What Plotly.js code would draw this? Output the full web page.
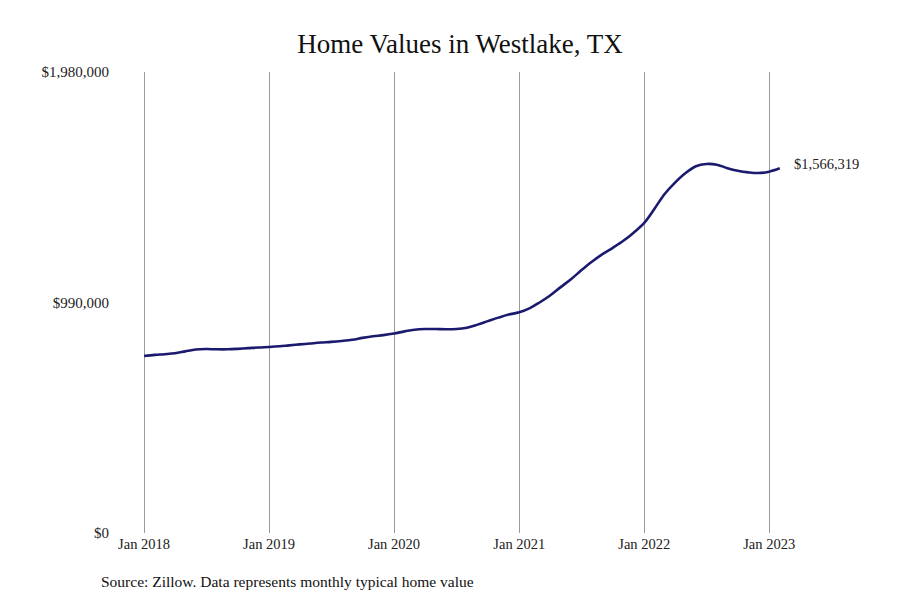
<!DOCTYPE html>
<html>
<head>
<meta charset="utf-8">
<script src="https://cdn.plot.ly/plotly-3.0.1.min.js"></script>
<style>html,body{margin:0;padding:0;background:#fff;}#chart{width:900px;height:600px;}</style>
</head>
<body>
<div id="chart"></div>
<script>
const months = [
 '2018-01-01','2018-02-01','2018-03-01','2018-04-01','2018-05-01','2018-06-01','2018-07-01','2018-08-01','2018-09-01','2018-10-01','2018-11-01','2018-12-01',
 '2019-01-01','2019-02-01','2019-03-01','2019-04-01','2019-05-01','2019-06-01','2019-07-01','2019-08-01','2019-09-01','2019-10-01','2019-11-01','2019-12-01',
 '2020-01-01','2020-02-01','2020-03-01','2020-04-01','2020-05-01','2020-06-01','2020-07-01','2020-08-01','2020-09-01','2020-10-01','2020-11-01','2020-12-01',
 '2021-01-01','2021-02-01','2021-03-01','2021-04-01','2021-05-01','2021-06-01','2021-07-01','2021-08-01','2021-09-01','2021-10-01','2021-11-01','2021-12-01',
 '2022-01-01','2022-02-01','2022-03-01','2022-04-01','2022-05-01','2022-06-01','2022-07-01','2022-08-01','2022-09-01','2022-10-01','2022-11-01','2022-12-01',
 '2023-01-01','2023-02-01'
];
const homeValues = [
 760000,765000,768000,772000,780000,788000,790000,789000,789000,791000,794000,797000,
 799000,802000,806000,810000,814000,818000,821000,825000,830000,838000,845000,850000,
 857000,866000,873000,876000,876000,875000,876000,882000,895000,910000,925000,938000,
 948000,966000,990000,1020000,1055000,1090000,1128000,1165000,1198000,1225000,1255000,1290000,
 1332000,1395000,1455000,1505000,1545000,1575000,1585000,1582000,1567000,1556000,1549000,1546000,
 1552000,1566319
];
const yTickVals = [0, 990000, 1980000];
const yTickText = ['$0', '$990,000', '$1,980,000'];
const xTickVals = ['2018-01-01','2019-01-01','2020-01-01','2021-01-01','2022-01-01','2023-01-01'];
const xTickText = ['Jan 2018','Jan 2019','Jan 2020','Jan 2021','Jan 2022','Jan 2023'];
const lastLabel = '$1,566,319';
const sourceText = 'Source: Zillow. Data represents monthly typical home value';

const serif = 'Liberation Serif, Times New Roman, serif';
const trace = {
  x: months, y: homeValues, type: 'scatter', mode: 'lines',
  line: {color: '#1c1a6e', width: 2.6, shape: 'spline', smoothing: 1},
  hoverinfo: 'skip'
};
const layout = {
  width: 900, height: 600,
  margin: {l: 115, r: 100, t: 72, b: 67},
  paper_bgcolor: '#fff', plot_bgcolor: '#fff',
  showlegend: false,
  font: {family: serif, color: '#222', size: 14},
  title: {text: 'Home Values in Westlake, TX', font: {family: serif, size: 27, color: '#111'},
          x: 460/900, xanchor: 'center', xref: 'container', y: 1 - 44/600, yanchor: 'middle', yref: 'container'},
  xaxis: {
    type: 'date', range: ['2017-10-08', '2023-04-01'],
    tickvals: xTickVals, ticktext: xTickText,
    showgrid: true, gridcolor: '#9a9a9a', gridwidth: 1,
    zeroline: false, showline: false, ticks: '',
    tickfont: {family: serif, size: 14.5, color: '#222'}
  },
  yaxis: {
    range: [0, 1980000], tickvals: yTickVals, ticktext: yTickText,
    showgrid: false, zeroline: false, showline: false, ticks: '',
    ticklabelstandoff: 5,
    tickfont: {family: serif, size: 15, color: '#222'}
  },
  annotations: [
    {x: months[months.length-1], y: homeValues[homeValues.length-1], xref: 'x', yref: 'y',
     text: lastLabel, showarrow: false, xanchor: 'left', yanchor: 'middle', xshift: 12, yshift: 4,
     font: {family: serif, size: 14.5, color: '#222'}},
    {x: (99 - 115) / (900 - 115 - 100), y: -(581 - 533) / (600 - 72 - 67), xref: 'paper', yref: 'paper',
     xanchor: 'left', yanchor: 'middle', text: sourceText, showarrow: false,
     font: {family: serif, size: 15.5, color: '#111'}}
  ]
};
Plotly.newPlot('chart', [trace], layout, {staticPlot: true, displayModeBar: false});
</script>
</body>
</html>
